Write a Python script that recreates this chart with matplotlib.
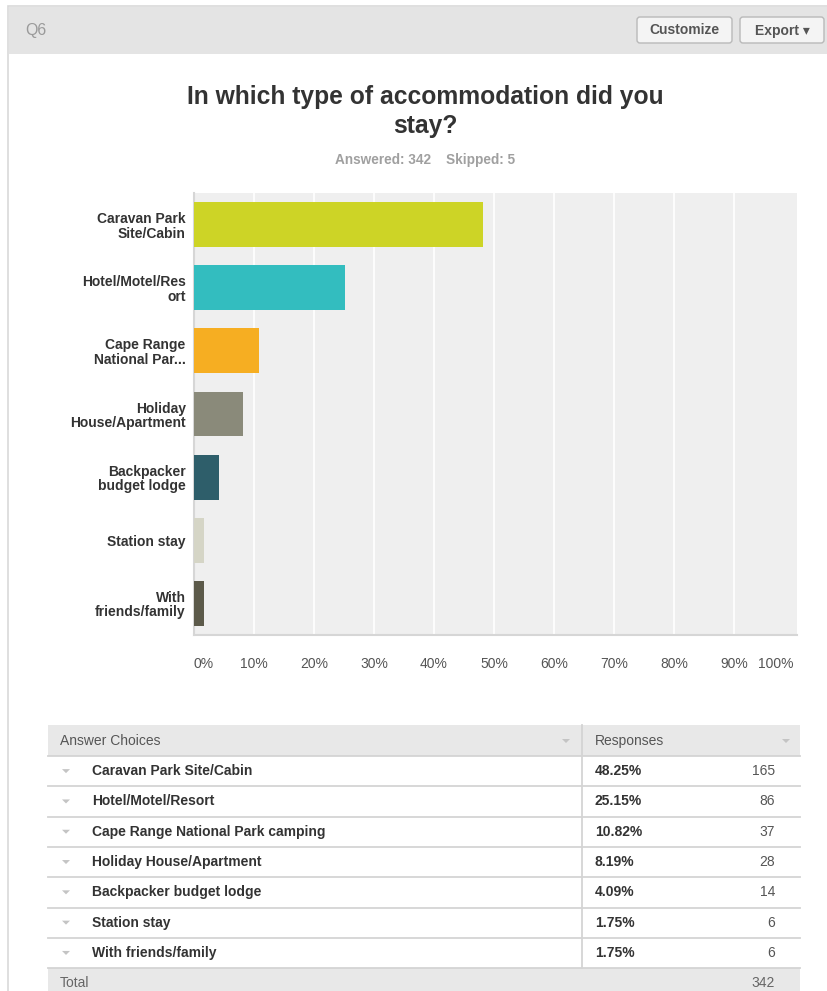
import matplotlib
matplotlib.use("Agg")
import matplotlib.pyplot as plt
from matplotlib.patches import Rectangle, FancyBboxPatch, Polygon

plt.rcParams['font.family'] = ['Liberation Sans', 'DejaVu Sans']

# Survey results
bar_labels = ['Caravan Park\nSite/Cabin', 'Hotel/Motel/Res\nort', 'Cape Range\nNational Par...',
              'Holiday\nHouse/Apartment', 'Backpacker\nbudget lodge', 'Station stay',
              'With\nfriends/family']
choices = ['Caravan Park Site/Cabin', 'Hotel/Motel/Resort', 'Cape Range National Park camping',
           'Holiday House/Apartment', 'Backpacker budget lodge', 'Station stay',
           'With friends/family']
percents = [48.25, 25.15, 10.82, 8.19, 4.09, 1.75, 1.75]
counts = [165, 86, 37, 28, 14, 6, 6]
total = 342
answered = 342
skipped = 5
colors = ['#cdd426', '#33bdbf', '#f6ae22', '#8a8a7a', '#2e5e6a', '#d5d5c6', '#5c5a4a']
ticks = list(range(0, 101, 10))

W, H = 828, 991
fig = plt.figure(figsize=(W / 100, H / 100), dpi=100)
fig.patch.set_facecolor('white')

# pixel-space canvas for the panel chrome and the table
bg = fig.add_axes([0, 0, 1, 1])
bg.set_xlim(0, W)
bg.set_ylim(H, 0)
bg.axis('off')

# panel border and header bar
bg.add_patch(Rectangle((8, 6), W, H, facecolor='white', edgecolor='#d9d9d9', lw=1.2))
bg.add_patch(Rectangle((9, 7), W, 47, facecolor='#e4e4e4', edgecolor='none'))
bg.text(25, 31, 'Q6', fontsize=11.5, color='#9a9a9a', va='center', ha='left')


def button(x0, x1, label):
    bg.add_patch(FancyBboxPatch((x0, 17), x1 - x0, 26, boxstyle='round,pad=0,rounding_size=3',
                                facecolor='#f4f4f4', edgecolor='#b9b9b9', lw=1))
    bg.text((x0 + x1) / 2, 30.5, label, fontsize=10, fontweight='bold', color='#555555',
            ha='center', va='center')


button(637, 732, 'Customize')
button(740, 824, 'Export \u25be')

# title block
bg.text(425, 97, 'In which type of accommodation did you', fontsize=17.7, fontweight='bold',
        color='#333333', ha='center', va='center')
bg.text(425, 126, 'stay?', fontsize=17.7, fontweight='bold', color='#333333',
        ha='center', va='center')
bg.text(425, 160, f'Answered: {answered}    Skipped: {skipped}', fontsize=9.8, fontweight='bold',
        color='#a0a0a0', ha='center', va='center')

# bar chart
left, right, top, bottom = 194, 797, 193, 635
ax = fig.add_axes([left / W, 1 - bottom / H, (right - left) / W, (bottom - top) / H])
ax.set_facecolor('#efefef')
ypos = list(range(len(percents)))
ax.barh(ypos, percents, height=0.71, color=colors, zorder=3)
ax.set_ylim(len(percents) - 0.5, -0.5)
ax.set_xlim(0, 100.5)
ax.set_yticks(ypos)
ax.set_yticklabels(bar_labels, fontsize=10, fontweight='bold', color='#333333', linespacing=1.05)
ax.set_xticks(ticks)
ax.set_xticklabels([f'{t}%' for t in ticks], fontsize=10, color='#555555')
ax.tick_params(axis='both', length=0)
ax.tick_params(axis='y', pad=6)
ax.tick_params(axis='x', pad=16)
xl = ax.get_xticklabels()
xl[0].set_ha('left')
xl[-1].set_ha('right')
# vertical guides at every tick except the right edge
for t in ticks[1:-1]:
    ax.axvline(t, color='white', lw=1.2, zorder=1)
for s in ['top', 'right']:
    ax.spines[s].set_visible(False)
for s in ['left', 'bottom']:
    ax.spines[s].set_color('#d6d6d6')
    ax.spines[s].set_linewidth(1.5)

# responses table
tx0, tx1, tdiv = 48, 800, 582
head_top, row_h = 725, 30.3
bg.add_patch(Rectangle((tx0, head_top), tx1 - tx0, 31, facecolor='#e8e8e8', edgecolor='none'))
bg.text(60, head_top + 16, 'Answer Choices', fontsize=10, color='#555555', va='center')
bg.text(595, head_top + 16, 'Responses', fontsize=10, color='#555555', va='center')


def caret(x, y, c='#c4c4c4'):
    bg.add_patch(Polygon([[x - 4, y - 2], [x + 4, y - 2], [x, y + 2]], closed=True,
                         facecolor=c, edgecolor='none'))


caret(566, head_top + 16)
caret(786, head_top + 16)
row0 = head_top + 31
for i, (name, pct, n) in enumerate(zip(choices, percents, counts)):
    y0 = row0 + i * row_h
    yc = y0 + row_h / 2
    bg.plot([tx0, tx1], [y0, y0], color='#d4d4d4', lw=1.3)
    caret(66, yc)
    bg.text(92, yc, name, fontsize=10, fontweight='bold', color='#333333', va='center')
    bg.text(595, yc, f'{pct:.2f}%', fontsize=10, fontweight='bold', color='#333333', va='center')
    bg.text(775, yc, str(n), fontsize=10, color='#555555', va='center', ha='right')
rows_end = row0 + len(choices) * row_h
bg.plot([tdiv, tdiv], [head_top, rows_end], color='#d4d4d4', lw=1.3)
bg.add_patch(Rectangle((tx0, rows_end), tx1 - tx0, 40, facecolor='#e8e8e8', edgecolor='none'))
bg.plot([tx0, tx1], [rows_end, rows_end], color='#d4d4d4', lw=1.3)
bg.text(60, rows_end + 15, 'Total', fontsize=10, color='#666666', va='center')
bg.text(775, rows_end + 15, str(total), fontsize=10, color='#666666', va='center', ha='right')

fig.savefig('out.png', dpi=100, facecolor='white')
